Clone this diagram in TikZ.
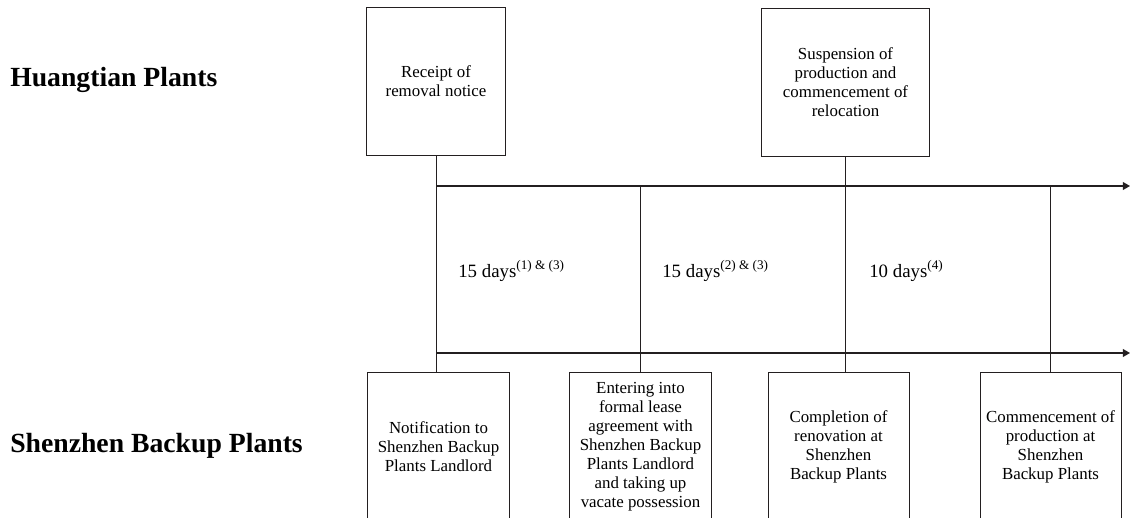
\documentclass[tikz,border=0pt]{standalone}
\usepackage{fontspec}
\setmainfont{Liberation Serif}
\usetikzlibrary{arrows.meta}
\definecolor{lineink}{HTML}{231F20}
\tikzset{
  event/.style={draw=lineink, line width=0.7pt, align=center, inner sep=2pt,
    minimum height=3.675cm, font=\fontsize{12}{13.5}\selectfont},
  link/.style={draw=lineink, line width=0.7pt},
  timeline/.style={draw=lineink, line width=0.9pt, -{Triangle[length=5pt,width=5.5pt]}},
  span/.style={anchor=base west, inner sep=0pt, font=\fontsize{13.4}{15}\selectfont},
  site/.style={anchor=base west, inner sep=0pt, font=\fontsize{19.7}{22}\selectfont\bfseries}
}

\begin{document}
\begin{tikzpicture}[x=0.025cm, y=-0.025cm]
  % Frame
  \useasboundingbox (0,0) rectangle (1130,518);
  \clip (0,0) rectangle (1130,518);

  % Site labels
  \node[site] (huang) at (10,87) {Huangtian Plants};
  \node[site] (shen) at (10,452) {Shenzhen Backup Plants};

  % Huangtian events
  \node[event, minimum width=3.45cm] (receipt) at (436,81.5) {Receipt of\\removal notice};
  \node[event, minimum width=4.175cm] (suspend) at (845.5,82.5) {Suspension of\\production and\\commencement of\\relocation};

  % Shenzhen events
  \node[event, minimum width=3.525cm] (notify) at (438.5,446.5) {Notification to\\Shenzhen Backup\\Plants Landlord};
  \node[event, minimum width=3.525cm] (lease) at (640.5,446.5) {Entering into\\formal lease\\agreement with\\Shenzhen Backup\\Plants Landlord\\and taking up\\vacate possession};
  \node[event, minimum width=3.525cm] (renov) at (838.5,446.5) {Completion of\\renovation at\\Shenzhen\\Backup Plants};
  \node[event, minimum width=3.525cm] (resume) at (1050.5,446.5) {Commencement of\\production at\\Shenzhen\\Backup Plants};

  % Timelines
  \coordinate (upstart) at (436,186);
  \coordinate (upend) at (1130,186);
  \coordinate (lowstart) at (436,353);
  \coordinate (lowend) at (1130,353);
  \draw[timeline] (upstart) -- (upend);
  \draw[timeline] (lowstart) -- (lowend);

  % Ticks
  \coordinate (tick2) at (640.5,186);
  \coordinate (tick4) at (1050.5,186);
  \draw[link] (receipt.south) -- (receipt.south |- notify.north);
  \draw[link] (tick2) -- (tick2 |- lease.north);
  \draw[link] (suspend.south) -- (suspend.south |- renov.north);
  \draw[link] (tick4) -- (tick4 |- resume.north);

  % Durations
  \node[span] (dur1) at (458,277) {15 days\textsuperscript{(1) \& (3)}};
  \node[span] (dur2) at (662,277) {15 days\textsuperscript{(2) \& (3)}};
  \node[span] (dur3) at (869,277) {10 days\textsuperscript{(4)}};
\end{tikzpicture}
\end{document}
